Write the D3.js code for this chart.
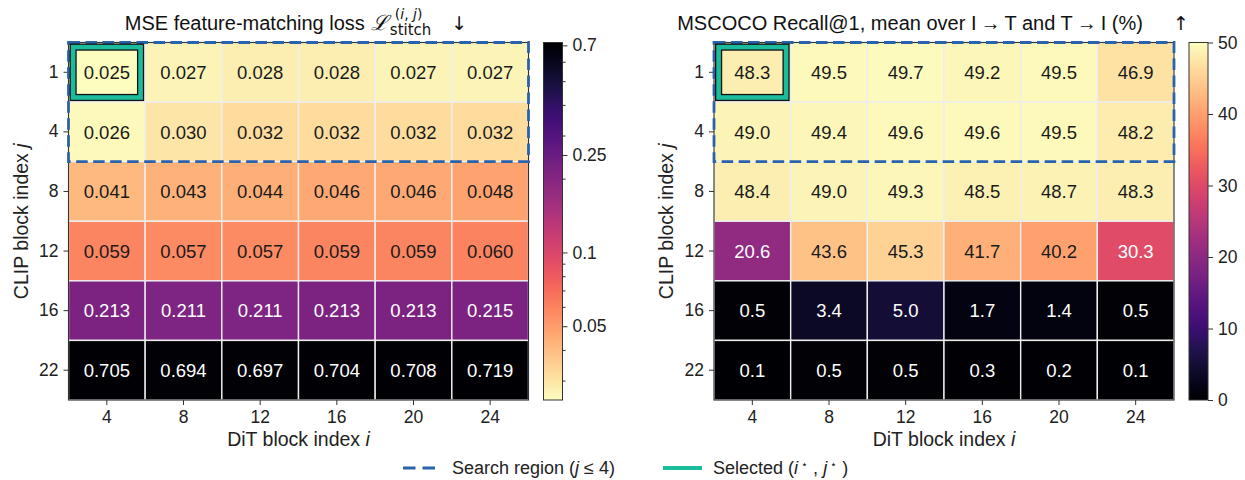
<!DOCTYPE html>
<html>
<head>
<meta charset="utf-8">
<script src="https://cdn.jsdelivr.net/npm/d3@7"></script>
<style>
  html, body { margin: 0; padding: 0; background: #fff; }
  svg { display: block; font-family: "Liberation Sans", Arial, Helvetica, sans-serif; }
</style>
</head>
<body>
<svg id="chart" width="1245" height="480"></svg>
<script>
// ---------------- data ----------------
const ditBlocks = [4, 8, 12, 16, 20, 24];          // x categories (DiT block index i)
const clipBlocks = [1, 4, 8, 12, 16, 22];          // y categories (CLIP block index j)

const mseLoss = [
  [0.025, 0.027, 0.028, 0.028, 0.027, 0.027],
  [0.026, 0.030, 0.032, 0.032, 0.032, 0.032],
  [0.041, 0.043, 0.044, 0.046, 0.046, 0.048],
  [0.059, 0.057, 0.057, 0.059, 0.059, 0.060],
  [0.213, 0.211, 0.211, 0.213, 0.213, 0.215],
  [0.705, 0.694, 0.697, 0.704, 0.708, 0.719]
];
const recallAt1 = [
  [48.3, 49.5, 49.7, 49.2, 49.5, 46.9],
  [49.0, 49.4, 49.6, 49.6, 49.5, 48.2],
  [48.4, 49.0, 49.3, 48.5, 48.7, 48.3],
  [20.6, 43.6, 45.3, 41.7, 40.2, 30.3],
  [0.5, 3.4, 5.0, 1.7, 1.4, 0.5],
  [0.1, 0.5, 0.5, 0.3, 0.2, 0.1]
];
const mseDomain = [0.025, 0.719];
const mseTickValues = [0.05, 0.1, 0.25, 0.7];
const mseTickLabels = ["0.05", "0.1", "0.25", "0.7"];
const mseMinorTicks = [0.03, 0.04, 0.06, 0.07, 0.08, 0.09, 0.2, 0.3, 0.4, 0.5, 0.6];
const recallDomain = [0, 50];
const recallTickValues = [0, 10, 20, 30, 40, 50];
const searchRows = [1, 4];          // search region j <= 4
const selected = { i: 4, j: 1 };    // selected (i*, j*)

// ---------------- layout ----------------
const svg = d3.select("#chart");
const TOP = 42.5, BOTTOM = 400;
const DARK = "#222";
const SPINE = "#333";
const BLUE = "#2a63ad";
const TEAL = "#1bbc9b";

function drawPanel(cfg) {
  const g = svg.append("g");
  const x = d3.scaleBand().domain(ditBlocks).range([cfg.x0, cfg.x1]);
  const y = d3.scaleBand().domain(clipBlocks).range([TOP, BOTTOM]);
  const cells = [];
  clipBlocks.forEach((j, r) => ditBlocks.forEach((i, c) => cells.push({ i, j, v: cfg.data[r][c] })));

  g.selectAll("rect.cell").data(cells).enter().append("rect")
    .attr("x", d => x(d.i)).attr("y", d => y(d.j))
    .attr("width", x.bandwidth()).attr("height", y.bandwidth())
    .attr("fill", d => d3.interpolateMagma(cfg.t(d.v)))
    .attr("stroke", "#eeeeee").attr("stroke-width", 1.4);

  g.selectAll("text.val").data(cells).enter().append("text")
    .attr("x", d => x(d.i) + x.bandwidth() / 2)
    .attr("y", d => y(d.j) + y.bandwidth() / 2)
    .attr("dy", "0.36em")
    .attr("text-anchor", "middle")
    .attr("font-size", 18.5)
    .attr("fill", d => cfg.t(d.v) < 0.68 ? "#fff" : "#1a1a1a")
    .text(d => cfg.fmt(d.v));

  g.append("rect").attr("x", cfg.x0).attr("y", TOP)
    .attr("width", cfg.x1 - cfg.x0).attr("height", BOTTOM - TOP)
    .attr("fill", "none").attr("stroke", SPINE).attr("stroke-width", 1.1);

  const xAxis = g.append("g").attr("transform", `translate(0,${BOTTOM})`)
    .call(d3.axisBottom(x).tickSize(5).tickPadding(6));
  const yAxis = g.append("g").attr("transform", `translate(${cfg.x0},0)`)
    .call(d3.axisLeft(y).tickSize(5).tickPadding(5));
  [xAxis, yAxis].forEach(a => {
    a.select(".domain").remove();
    a.selectAll("line").attr("stroke", SPINE).attr("stroke-width", 1);
    a.selectAll("text").attr("font-size", 17.5).attr("fill", DARK)
      .attr("font-family", "'Liberation Sans', Arial, sans-serif");
  });

  const xl = g.append("text").attr("x", (cfg.x0 + cfg.x1) / 2).attr("y", 446)
    .attr("text-anchor", "middle").attr("font-size", 19.5).attr("fill", DARK);
  xl.append("tspan").text("DiT block index ");
  xl.append("tspan").attr("font-style", "italic").text("i");
  const yl = g.append("text")
    .attr("transform", `translate(${cfg.x0 - 41},${(TOP + BOTTOM) / 2}) rotate(-90)`)
    .attr("text-anchor", "middle").attr("font-size", 19.5).attr("fill", DARK);
  yl.append("tspan").text("CLIP block index ");
  yl.append("tspan").attr("font-style", "italic").text("j");

  const yEnd = y(searchRows[searchRows.length - 1]) + y.bandwidth();
  g.append("rect").attr("x", cfg.x0).attr("y", TOP)
    .attr("width", cfg.x1 - cfg.x0).attr("height", yEnd - TOP)
    .attr("fill", "none").attr("stroke", BLUE).attr("stroke-width", 2.8)
    .attr("stroke-dasharray", "11.5,5.5");

  const inset = 4.6;
  const sx = x(selected.i) + inset, sy = y(selected.j) + inset;
  const sw = x.bandwidth() - 2 * inset, sh = y.bandwidth() - 2 * inset;
  g.append("rect").attr("x", sx).attr("y", sy).attr("width", sw).attr("height", sh)
    .attr("fill", "none").attr("stroke", "#111").attr("stroke-width", 7.2);
  g.append("rect").attr("x", sx).attr("y", sy).attr("width", sw).attr("height", sh)
    .attr("fill", "none").attr("stroke", TEAL).attr("stroke-width", 4.6);

  const cbx = cfg.x1 + 15, cbw = 19;
  const defs = svg.append("defs");
  const gid = "grad" + cfg.id;
  const grad = defs.append("linearGradient").attr("id", gid)
    .attr("x1", 0).attr("y1", 1).attr("x2", 0).attr("y2", 0);
  d3.range(0, 1.0001, 0.02).forEach(s => {
    grad.append("stop").attr("offset", s).attr("stop-color", d3.interpolateMagma(cfg.reverse ? 1 - s : s));
  });
  g.append("rect").attr("x", cbx).attr("y", TOP).attr("width", cbw).attr("height", BOTTOM - TOP)
    .attr("fill", `url(#${gid})`).attr("stroke", SPINE).attr("stroke-width", 1);
  const cbScale = cfg.cbScale.range([BOTTOM, TOP]);
  const cbAxis = d3.axisRight(cbScale).tickValues(cfg.ticks).tickSize(5).tickPadding(5)
    .tickFormat((d, k) => cfg.tickLabels ? cfg.tickLabels[k] : d);
  const cba = g.append("g").attr("transform", `translate(${cbx + cbw},0)`).call(cbAxis);
  cba.select(".domain").remove();
  cba.selectAll("line").attr("stroke", SPINE);
  cba.selectAll("text").attr("font-size", 17.5).attr("fill", DARK)
    .attr("font-family", "'Liberation Sans', Arial, sans-serif");
  if (cfg.minor) {
    const mAxis = d3.axisRight(cbScale).tickValues(cfg.minor).tickSize(3).tickFormat("");
    const ma = g.append("g").attr("transform", `translate(${cbx + cbw},0)`).call(mAxis);
    ma.select(".domain").remove();
    ma.selectAll("line").attr("stroke", SPINE);
  }
  return g;
}

const mseLog = d3.scaleLog().domain(mseDomain).range([0, 1]).clamp(true);
drawPanel({
  id: "L", x0: 68.5, x1: 528.5, data: mseLoss,
  t: v => 1 - mseLog(v), fmt: d3.format(".3f"), reverse: true,
  cbScale: d3.scaleLog().domain(mseDomain), ticks: mseTickValues, tickLabels: mseTickLabels,
  minor: mseMinorTicks
});
const recLin = d3.scaleLinear().domain(recallDomain).range([0, 1]).clamp(true);
drawPanel({
  id: "R", x0: 714, x1: 1174, data: recallAt1,
  t: v => recLin(v), fmt: d3.format(".1f"), reverse: false,
  cbScale: d3.scaleLinear().domain(recallDomain), ticks: recallTickValues
});

// ---------------- titles ----------------
function centerGroup(g, cx) {
  const bb = g.node().getBBox();
  g.attr("transform", `translate(${cx - bb.width / 2 - bb.x},0)`);
}
{
  const g = svg.append("g");
  const t1 = g.append("text").attr("x", 0).attr("y", 30).attr("font-size", 20).attr("fill", "#111")
    .text("MSE feature-matching loss");
  let w = t1.node().getComputedTextLength() + 6;
  const L = g.append("text").attr("x", w).attr("y", 30).attr("font-size", 21)
    .attr("font-family", "'DejaVu Serif', serif").attr("font-style", "italic").attr("fill", "#111").text("\u2112");
  const wl = L.node().getComputedTextLength();
  const sx = w + wl + 2;
  g.append("text").attr("x", sx + 5).attr("y", 19).attr("font-size", 14)
    .attr("font-family", "'DejaVu Sans', sans-serif").attr("fill", "#111")
    .html('(<tspan font-style="italic">i</tspan>, <tspan font-style="italic">j</tspan>)');
  const sub = g.append("text").attr("x", sx).attr("y", 35).attr("font-size", 15)
    .attr("font-family", "'DejaVu Sans', sans-serif").attr("fill", "#111").text("stitch");
  const ws = sub.node().getComputedTextLength();
  g.append("text").attr("x", sx + ws + 20).attr("y", 30).attr("font-size", 19)
    .attr("font-family", "'DejaVu Sans', sans-serif").attr("fill", "#111").text("\u2193");
  centerGroup(g, 296);
}
{
  const g = svg.append("g");
  g.append("text").attr("x", 0).attr("y", 30).attr("font-size", 20).attr("fill", "#111")
    .text("MSCOCO Recall@1, mean over I\u2009\u2192\u2009T and T\u2009\u2192\u2009I (%)\u2003\u2002");
  const w = g.select("text").node().getComputedTextLength();
  g.append("text").attr("x", w).attr("y", 30).attr("font-size", 19)
    .attr("font-family", "'DejaVu Sans', sans-serif").attr("fill", "#111").text("\u2191");
  centerGroup(g, 933);
}

// ---------------- legend ----------------
{
  const g = svg.append("g");
  const ly = 468;
  g.append("line").attr("x1", 403).attr("x2", 437).attr("y1", ly).attr("y2", ly)
    .attr("stroke", BLUE).attr("stroke-width", 3).attr("stroke-dasharray", "12.5,7");
  const t1 = g.append("text").attr("x", 452).attr("y", ly).attr("dy", "0.36em")
    .attr("font-size", 18).attr("fill", DARK);
  t1.append("tspan").text("Search region (");
  t1.append("tspan").attr("font-style", "italic").text("j");
  t1.append("tspan").text(" \u2264 4)");
  g.append("line").attr("x1", 663).attr("x2", 702).attr("y1", ly).attr("y2", ly)
    .attr("stroke", TEAL).attr("stroke-width", 4);
  const t2 = g.append("text").attr("x", 713).attr("y", ly).attr("dy", "0.36em")
    .attr("font-size", 18).attr("fill", DARK);
  t2.append("tspan").text("Selected (");
  t2.append("tspan").attr("font-style", "italic").text("i");
  t2.append("tspan").attr("font-size", 11).attr("baseline-shift", "55%").text(" \u22C6");
  t2.append("tspan").text(" , ");
  t2.append("tspan").attr("font-style", "italic").text("j");
  t2.append("tspan").attr("font-size", 11).attr("baseline-shift", "55%").text(" \u22C6");
  t2.append("tspan").text(" )");
}
</script>
</body>
</html>
